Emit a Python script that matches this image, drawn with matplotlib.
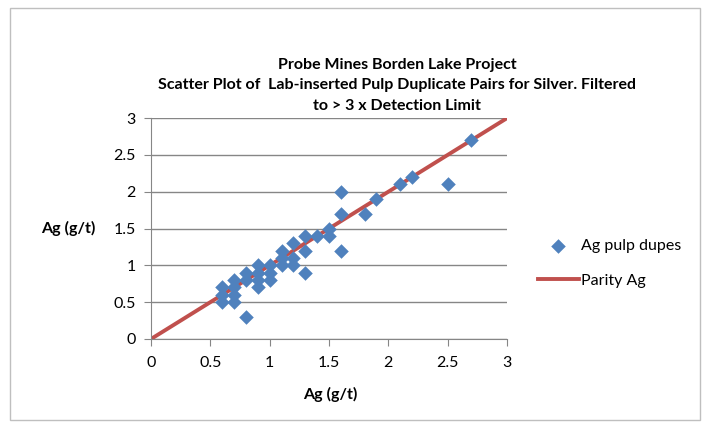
import matplotlib
matplotlib.use("Agg")
from matplotlib import pyplot as plt
from matplotlib.patches import Rectangle

# pulp duplicate pairs, original vs duplicate (g/t)
original = [0.6, 0.6, 0.6, 0.7, 0.7, 0.7, 0.7, 0.8, 0.8, 0.8, 0.9, 0.9, 0.9, 0.9,
            1.0, 1.0, 1.0, 1.1, 1.1, 1.1, 1.2, 1.2, 1.2, 1.3, 1.3, 1.3, 1.4, 1.5,
            1.5, 1.6, 1.6, 1.6, 1.8, 1.9, 2.1, 2.2, 2.5, 2.7]
duplicate = [0.5, 0.6, 0.7, 0.5, 0.6, 0.7, 0.8, 0.3, 0.8, 0.9, 0.7, 0.8, 0.9, 1.0,
             0.8, 0.9, 1.0, 1.0, 1.1, 1.2, 1.0, 1.1, 1.3, 0.9, 1.2, 1.4, 1.4, 1.4,
             1.5, 1.2, 1.7, 2.0, 1.7, 1.9, 2.1, 2.2, 2.1, 2.7]
parity = [0, 3]
ticks = [0, 0.5, 1, 1.5, 2, 2.5, 3]
tick_labels = ["0", "0.5", "1", "1.5", "2", "2.5", "3"]

plt.rcParams["font.family"] = ["Lato", "DejaVu Sans"]

fig = plt.figure(figsize=(7.07, 4.28), dpi=100)
fig.patches.append(Rectangle((10 / 707, 8 / 428), 690 / 707, 412 / 428, transform=fig.transFigure,
                             fill=False, edgecolor="#bfbfbf", linewidth=1))
ax = fig.add_axes([0.2136, 0.208, 0.5035, 0.516])

ax.plot(parity, parity, color="#c0504d", linewidth=2.8, label="Parity Ag", zorder=2)
ax.scatter(original, duplicate, marker="D", s=55, color="#4f81bd", label="Ag pulp dupes",
           zorder=3, linewidths=0)

ax.set_xlim(0, 3)
ax.set_ylim(0, 3)
ax.set_xticks(ticks)
ax.set_xticklabels(tick_labels)
ax.set_yticks(ticks)
ax.set_yticklabels(tick_labels)
ax.tick_params(labelsize=11.5, length=5, color="#868686", direction="out")
ax.tick_params(axis="x", pad=7)
ax.tick_params(axis="y", pad=6)
ax.grid(axis="y", color="#868686", linewidth=1)
ax.set_axisbelow(True)
for side in ["top", "right"]:
    ax.spines[side].set_visible(False)
for side in ["left", "bottom"]:
    ax.spines[side].set_color("#868686")

ax.set_xlabel("Ag (g/t)", fontsize=11.5, fontweight="bold", va="center")
ax.set_ylabel("Ag (g/t)", fontsize=11.5, fontweight="bold", rotation=0, ha="center", va="center")
ax.xaxis.set_label_coords(0.503, -0.253)
ax.yaxis.set_label_coords(-0.233, 0.5)

fig.text(0.5615, 0.801, "Probe Mines Borden Lake Project\n"
         "Scatter Plot of  Lab-inserted Pulp Duplicate Pairs for Silver. Filtered\n"
         "to > 3 x Detection Limit", ha="center", va="center", fontsize=11.5,
         fontweight="bold", linespacing=1.6)

handles, labels = ax.get_legend_handles_labels()
fig.legend(handles[::-1], labels[::-1], loc="center left", bbox_to_anchor=(0.74, 0.385),
           frameon=False, fontsize=11.5, labelspacing=1.3, handlelength=2.6, handletextpad=0.15)

fig.savefig("out.png", dpi=100)
